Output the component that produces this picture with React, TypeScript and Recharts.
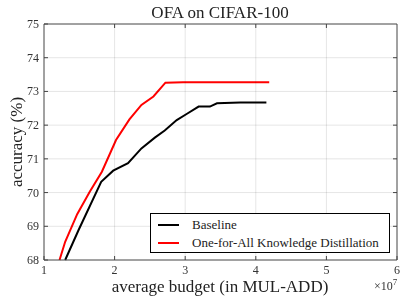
import { LineChart, Line, XAxis, YAxis } from "recharts";

// budget in units of 1e7 MUL-ADD, accuracy in %
const baseBudget = [1.3, 1.49, 1.81, 1.98, 2.19, 2.38, 2.57, 2.71, 2.88, 3.02, 3.19, 3.35, 3.45, 3.78, 4.15];
const baseAcc = [68.0, 68.89, 70.32, 70.65, 70.87, 71.31, 71.63, 71.84, 72.15, 72.33, 72.55, 72.55, 72.65, 72.67, 72.67];

const ofaBudget = [1.22, 1.3, 1.47, 1.65, 1.82, 2.02, 2.21, 2.38, 2.55, 2.72, 2.97, 4.19];
const ofaAcc = [68.0, 68.54, 69.36, 70.03, 70.62, 71.56, 72.17, 72.6, 72.85, 73.26, 73.27, 73.27];

const xTicks = [1, 2, 3, 4, 5, 6];
const yTicks = [68, 69, 70, 71, 72, 73, 74, 75];

const baseline = baseBudget.map((x, i) => ({ x, y: baseAcc[i] }));
const ofa = ofaBudget.map((x, i) => ({ x, y: ofaAcc[i] }));

const series = [
    { name: "Baseline", color: "#000" },
    { name: "One-for-All Knowledge Distillation", color: "#ff0000" },
];

const W = 407;
const H = 303;
const M = { top: 24, right: 10, left: 44, bottom: 43 };
const PLOT_W = W - M.left - M.right;
const PLOT_H = H - M.top - M.bottom;

const FONT = "Liberation Serif";
const AXIS = "#444";
const GRID = "#e6e6e6";
const TICK = 4;
const xFirst = xTicks[0];
const xLast = xTicks[xTicks.length - 1];
const yFirst = yTicks[0];
const yLast = yTicks[yTicks.length - 1];

// x ticks also carry the vertical grid, the top-edge ticks and the right border
const BottomTick = ({ x, y, payload }: any) => {
    const v = payload.value;
    const top = y - PLOT_H;
    return (
        <g>
            {v !== xFirst && v !== xLast && (
                <>
                    <line x1={x} y1={y} x2={x} y2={top} stroke={GRID} style={{ mixBlendMode: "multiply" }} />
                    <line x1={x} y1={top} x2={x} y2={top + TICK} stroke={AXIS} />
                </>
            )}
            {v === xLast && <line x1={x} y1={y} x2={x} y2={top} stroke={AXIS} />}
            <line x1={x} y1={y} x2={x} y2={y - TICK} stroke={AXIS} />
            <text x={x} y={y + 14} textAnchor="middle" fontSize={12} fill="#333" fontFamily={FONT}>
                {v}
            </text>
        </g>
    );
};

// y ticks also carry the horizontal grid, the right-edge ticks and the top border
const LeftTick = ({ x, y, payload }: any) => {
    const v = payload.value;
    const right = x + PLOT_W;
    return (
        <g>
            {v !== yFirst && v !== yLast && (
                <>
                    <line x1={x} y1={y} x2={right} y2={y} stroke={GRID} style={{ mixBlendMode: "multiply" }} />
                    <line x1={right} y1={y} x2={right - TICK} y2={y} stroke={AXIS} />
                </>
            )}
            {v === yLast && <line x1={x} y1={y} x2={right} y2={y} stroke={AXIS} />}
            <line x1={x} y1={y} x2={x + TICK} y2={y} stroke={AXIS} />
            <text x={x - 5} y={y + 4} textAnchor="end" fontSize={12} fill="#333" fontFamily={FONT}>
                {v}
            </text>
        </g>
    );
};

const label = { position: "absolute" as const, fontFamily: FONT, color: "#222" };

export default function App() {
    return (
        <div style={{ position: "relative", width: W, height: H, background: "#fff" }}>
            <style>{"body{margin:0}"}</style>
            <LineChart width={W} height={H} margin={{ top: M.top, right: M.right, bottom: 0, left: 0 }}>
                <XAxis
                    type="number"
                    dataKey="x"
                    domain={[xFirst, xLast]}
                    ticks={xTicks}
                    height={M.bottom}
                    tickSize={0}
                    tickMargin={0}
                    tickLine={false}
                    axisLine={{ stroke: AXIS }}
                    tick={<BottomTick />}
                />
                <YAxis
                    type="number"
                    domain={[yFirst, yLast]}
                    ticks={yTicks}
                    width={M.left}
                    tickSize={0}
                    tickMargin={0}
                    tickLine={false}
                    axisLine={{ stroke: AXIS }}
                    tick={<LeftTick />}
                />
                <Line
                    data={baseline}
                    dataKey="y"
                    name={series[0].name}
                    stroke={series[0].color}
                    strokeWidth={2}
                    dot={false}
                    isAnimationActive={false}
                />
                <Line
                    data={ofa}
                    dataKey="y"
                    name={series[1].name}
                    stroke={series[1].color}
                    strokeWidth={2}
                    dot={false}
                    isAnimationActive={false}
                />
            </LineChart>
            <div
                style={{
                    position: "absolute",
                    left: 150,
                    top: 213,
                    width: 238,
                    height: 38,
                    border: "1px solid #000",
                    background: "#fff",
                    fontFamily: FONT,
                    fontSize: 13,
                    color: "#222",
                }}
            >
                {series.map((item, i) => (
                    <div key={i} style={{ display: "flex", alignItems: "center", height: 18, marginTop: i === 0 ? 2 : 0 }}>
                        <span style={{ width: 21, height: 2, background: item.color, marginLeft: 7, marginRight: 13 }} />
                        <span>{item.name}</span>
                    </div>
                ))}
            </div>
            <div style={{ ...label, top: 3, left: 0, width: 440, textAlign: "center", fontSize: 17 }}>OFA on CIFAR-100</div>
            <div style={{ ...label, top: 277, left: 0, width: 440, textAlign: "center", fontSize: 17 }}>
                average budget (in MUL-ADD)
            </div>
            <div
                style={{
                    ...label,
                    left: 17,
                    top: 142,
                    transform: "translate(-50%, -50%) rotate(-90deg)",
                    whiteSpace: "nowrap",
                    fontSize: 17,
                }}
            >
                accuracy (%)
            </div>
            <div style={{ ...label, left: 374, top: 279, fontSize: 12, color: "#333", lineHeight: "14px" }}>
                ×10<sup style={{ fontSize: 9, lineHeight: 0 }}>7</sup>
            </div>
        </div>
    );
}
